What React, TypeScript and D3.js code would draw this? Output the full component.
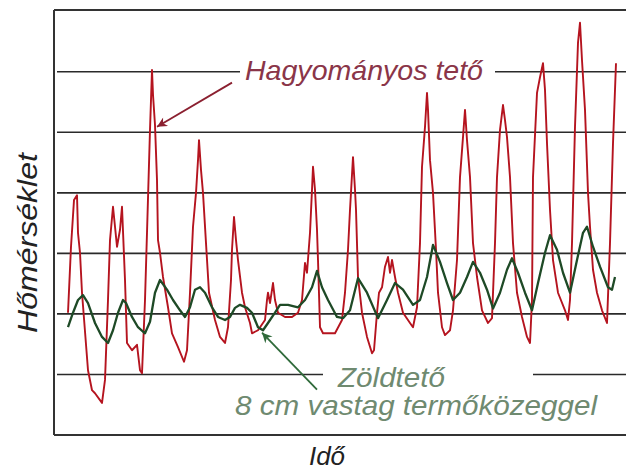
import React from "react";
import * as d3 from "d3";

// Time (arbitrary units along the record) and temperature readings
const RED_T = [13,16,19,22,23,25,27,33,37,40,47,50,53,55,58,62,65,67,70,72,77,82,85,87,90,92,95,97,98,100,102,103,105,108,113,117,123,129,132,135,138,141,143,144,146,148,151,154,160,165,170,173,176,177,179,181,183,187,190,195,197,203,210,212,213,215,218,220,223,230,237,243,247,250,252,255,257,258,260,262,263,265,268,273,280,287,290,293,295,298,300,301,303,307,312,317,319,322,324,327,330,333,335,337,340,343,348,355,358,362,365,367,370,372,373,375,378,381,383,387,390,395,398,402,405,408,410,412,415,418,422,427,433,437,440,442,445,448,450,452,455,458,462,467,472,475,477,478,482,485,488,490,492,495,498,503,510,513,515,517,520,523,525,527,530,533,535,538,542,547,552,555,558,561];
const RED_V = [20.2,31.1,38.8,39.6,33.4,30.1,23.5,10.7,7.4,6.9,5.3,9.1,22.3,32.2,37.7,31.1,33.9,37.7,25.6,15.2,14.0,14.9,10.7,10.2,22.3,33.4,50.4,60.3,56.2,51.2,42.1,32.2,30.1,26.1,21.1,16.8,14.5,12.1,14.0,23.5,34.4,40.0,45.4,48.7,43.8,40.0,31.7,23.5,19.0,16.2,15.2,17.8,25.6,30.6,36.0,32.2,28.9,23.5,21.1,18.5,16.8,17.3,19.0,22.3,23.5,21.8,25.1,22.3,20.2,19.5,19.5,20.2,22.3,28.4,26.8,33.4,40.5,44.3,40.5,33.9,28.9,17.8,16.8,16.8,16.8,19.0,23.5,30.6,37.2,45.9,40.5,37.2,26.1,20.2,16.2,13.5,14.0,20.2,23.5,24.4,27.8,29.4,26.8,28.9,26.1,23.5,20.2,18.5,17.8,21.1,31.7,44.3,50.9,56.5,53.7,45.4,40.0,30.6,23.5,17.8,16.5,17.3,20.6,28.9,42.6,49.2,53.7,48.7,42.6,31.7,26.1,20.6,18.5,19.3,31.7,42.6,50.4,54.5,52.0,49.2,42.6,31.7,23.5,19.5,16.2,15.2,22.3,42.6,56.5,59.1,61.4,57.0,48.2,37.2,28.9,23.5,20.6,19.0,22.3,31.7,50.9,64.8,68.1,61.9,53.7,40.0,34.4,27.3,23.5,20.6,18.5,31.7,48.2,61.4];

const GREEN_T = [13,18,23,28,33,40,47,53,58,63,68,71,77,83,90,95,100,105,112,118,125,130,135,140,145,150,157,163,170,175,180,185,192,197,203,208,213,220,225,233,243,250,257,262,267,273,282,288,295,303,312,323,332,340,348,358,365,372,378,385,392,398,405,412,418,425,432,438,445,452,457,463,470,477,483,490,495,502,508,515,522,528,532,538,545,553,557,560];
const GREEN_V = [17.8,20.2,22.3,23.1,21.8,18.5,16.2,15.2,17.3,20.2,22.3,21.8,19.5,17.8,16.8,18.7,23.5,25.6,24.0,22.3,20.6,19.5,21.1,24.0,24.4,23.5,21.1,19.5,19.0,19.5,21.0,21.5,21.0,20.2,17.8,17.3,18.5,20.2,21.5,21.5,21.1,22.3,24.4,27.1,24.4,22.3,19.5,19.3,20.6,25.9,23.5,19.3,22.3,25.1,24.0,21.5,22.3,26.1,31.4,28.6,25.1,22.3,23.5,26.1,28.6,26.8,24.0,20.9,23.5,27.3,29.2,26.8,23.5,20.6,25.1,30.1,33.0,30.6,26.8,23.5,28.9,33.4,34.4,31.1,27.8,24.4,24.0,26.1];

const GRID_VALUES = [10, 20, 30, 40, 50, 60];
const LABEL_TRAD = "Hagyományos tető";
const LABEL_GREEN_1 = "Zöldtető";
const LABEL_GREEN_2 = "8 cm vastag termőközeggel";
const Y_TITLE = "Hőmérséklet";
const X_TITLE = "Idő";
// arrow anchors in data coords: [fromT, fromV, toT, toV]
const ARROW_TRAD = [177, 58.2, 102, 50.9];
const ARROW_GREEN = [262, 7.5, 207, 16.9];

const W = 626, H = 472;
const FONT = "'Liberation Sans', Arial, sans-serif";

export default function App() {
  const x = d3.scaleLinear().domain([0, 570]).range([55, 625]);
  const y = d3.scaleLinear().domain([0, 70.2]).range([435, 10]);
  const line = d3.line<[number, number]>().x(d => x(d[0])).y(d => y(d[1]));
  const red = line(RED_T.map((t, i) => [t, RED_V[i]]))!;
  const green = line(GREEN_T.map((t, i) => [t, GREEN_V[i]]))!;

  const arrow = (a: number[], color: string, id: string) => {
    const x1 = x(a[0]), y1 = y(a[1]), x2 = x(a[2]), y2 = y(a[3]);
    return <line x1={x1} y1={y1} x2={x2} y2={y2} stroke={color} strokeWidth={1.8} markerEnd={`url(#${id})`} />;
  };

  return (
    <svg width={W} height={H} style={{ position: "absolute", left: 0, top: 0, background: "#fff" }}>
      <defs>
        <marker id="ahR" viewBox="0 0 10 10" refX="10" refY="5" markerWidth="14" markerHeight="10" orient="auto" markerUnits="userSpaceOnUse">
          <path d="M0,0 L10,5 L0,10 L3,5 Z" fill="#8b2030" />
        </marker>
        <marker id="ahG" viewBox="0 0 10 10" refX="10" refY="5" markerWidth="14" markerHeight="10" orient="auto" markerUnits="userSpaceOnUse">
          <path d="M0,0 L10,5 L0,10 L3,5 Z" fill="#2f6a3a" />
        </marker>
      </defs>
      <rect x={0} y={0} width={W} height={H} fill="#fff" />
      {/* frame */}
      <line x1={54} y1={y(70.2)} x2={W} y2={y(70.2)} stroke="#333" strokeWidth={2} />
      <line x1={54} y1={y(0)} x2={W} y2={y(0)} stroke="#333" strokeWidth={2} />
      <line x1={54} y1={y(70.2)} x2={54} y2={y(0)} stroke="#333" strokeWidth={2} />
      {/* gridlines */}
      {GRID_VALUES.map(v => (
        <line key={v} x1={57} x2={W} y1={y(v)} y2={y(v)} stroke="#2a2a2a" strokeWidth={1.6} />
      ))}
      {/* label backgrounds breaking gridlines */}
      <rect x={240} y={y(60) - 6} width={255} height={12} fill="#fff" />
      <rect x={323} y={y(10) - 6} width={210} height={12} fill="#fff" />
      {/* series */}
      <path d={red} fill="none" stroke="#b5141f" strokeWidth={1.9} strokeLinejoin="round" />
      <path d={green} fill="none" stroke="#1e4a26" strokeWidth={2.3} strokeLinejoin="round" />
      {/* annotations */}
      {arrow(ARROW_TRAD, "#8b2030", "ahR")}
      {arrow(ARROW_GREEN, "#2f6a3a", "ahG")}
      <text x={245} y={80} fontFamily={FONT} fontStyle="italic" fontSize={28} fill="#8a3548" textLength={238} lengthAdjust="spacingAndGlyphs">{LABEL_TRAD}</text>
      <text x={338} y={387} fontFamily={FONT} fontStyle="italic" fontSize={28} fill="#6f8a70" textLength={107} lengthAdjust="spacingAndGlyphs">{LABEL_GREEN_1}</text>
      <text x={235} y={415} fontFamily={FONT} fontStyle="italic" fontSize={28} fill="#6f8a70" textLength={362} lengthAdjust="spacingAndGlyphs">{LABEL_GREEN_2}</text>
      <text transform="translate(37,243) rotate(-90)" textAnchor="middle" fontFamily={FONT} fontStyle="italic" fontSize={28} fill="#222" textLength={180} lengthAdjust="spacingAndGlyphs">{Y_TITLE}</text>
      <text x={327} y={465} textAnchor="middle" fontFamily={FONT} fontStyle="italic" fontSize={26} fill="#222">{X_TITLE}</text>
    </svg>
  );
}
